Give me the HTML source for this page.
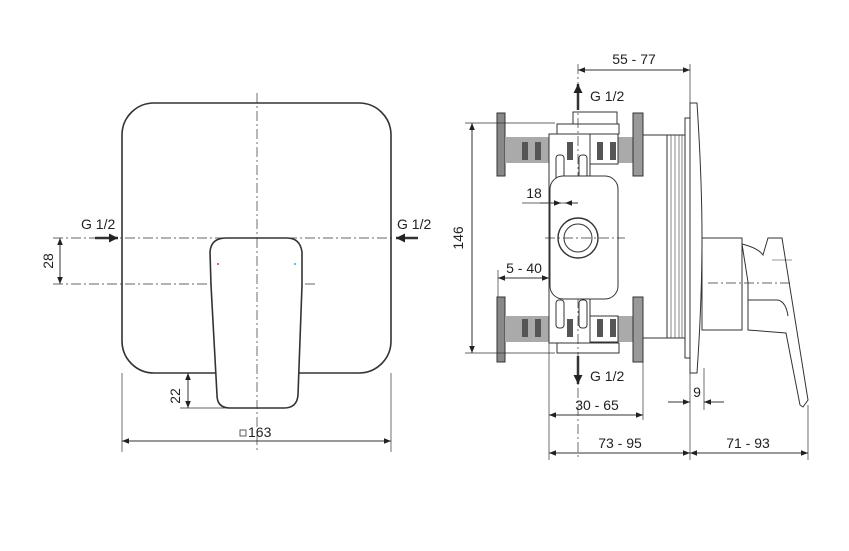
<!DOCTYPE html>
<html><head><style>
html,body{margin:0;padding:0;background:#fff;}
svg{display:block}
text{font-family:"Liberation Sans",sans-serif;font-size:14px;fill:#222}
</style></head><body>
<svg width="849" height="551" viewBox="0 0 849 551" xmlns="http://www.w3.org/2000/svg">
<defs>
<marker id="a" viewBox="0 0 10 10" refX="10" refY="5" markerWidth="9" markerHeight="7" orient="auto-start-reverse" markerUnits="userSpaceOnUse"><path d="M0,1 L10,5 L0,9z" fill="#222"/></marker>
<marker id="b" viewBox="0 0 10 10" refX="10" refY="5" markerWidth="10" markerHeight="9" orient="auto" markerUnits="userSpaceOnUse"><path d="M0,0 L10,5 L0,10z" fill="#222"/></marker>
</defs>
<g fill="none" stroke="#333" stroke-width="1">
<!-- LEFT VIEW -->
<rect x="122" y="103" width="269" height="270" rx="32" stroke-width="1.6"/>
<line x1="257" y1="93" x2="257" y2="450" stroke-dasharray="10,3,2,3" stroke-width="0.7"/>
<line x1="53" y1="238" x2="395" y2="238" stroke-dasharray="10,3,2,3" stroke-width="0.7"/>
<line x1="53" y1="284" x2="316" y2="284" stroke-dasharray="10,3,2,3" stroke-width="0.7"/>
<path d="M226,238 L287,238 Q300,238 302,252 L302,285 L298,395 Q297,408 284,408 L230,408 Q217,408 217,395 L211,285 L210,252 Q211,238 226,238Z" fill="#fff" stroke-width="1.6"/>
<line x1="257" y1="238" x2="257" y2="408" stroke-dasharray="10,3,2,3" stroke-width="0.7"/>
<circle cx="218" cy="264" r="1" fill="#d33" stroke="none"/>
<circle cx="295" cy="264" r="1" fill="#3ad" stroke="none"/>
<line x1="95" y1="238" x2="118" y2="238" stroke-width="2.5" marker-end="url(#b)"/>
<line x1="418" y1="238" x2="396" y2="238" stroke-width="2.5" marker-end="url(#b)"/>
<line x1="60" y1="238" x2="60" y2="284" marker-start="url(#a)" marker-end="url(#a)"/>
<line x1="188" y1="373" x2="188" y2="408" marker-start="url(#a)" marker-end="url(#a)"/>
<line x1="180" y1="408" x2="225" y2="408" stroke-width="0.7"/>
<line x1="122" y1="373" x2="122" y2="452" stroke-width="0.7"/>
<line x1="391" y1="373" x2="391" y2="452" stroke-width="0.7"/>
<line x1="122" y1="441" x2="391" y2="441" marker-start="url(#a)" marker-end="url(#a)"/>
<rect x="240" y="430" width="6" height="6" stroke-width="0.8"/>

<!-- RIGHT VIEW -->
<line x1="578" y1="64" x2="578" y2="460" stroke-dasharray="10,3,2,3" stroke-width="0.7"/>
<line x1="690" y1="64" x2="690" y2="460" stroke-width="0.7"/>
<line x1="578" y1="70" x2="690" y2="70" marker-start="url(#a)" marker-end="url(#a)"/>
<rect x="497" y="113" width="8" height="63" fill="#888"/>
<rect x="497" y="297" width="8" height="65" fill="#888"/>
<rect x="505" y="137" width="44" height="26" fill="#aaa" stroke="none"/>
<rect x="505" y="316" width="44" height="26" fill="#aaa" stroke="none"/>
<rect x="618" y="137" width="15" height="26" fill="#aaa" stroke="none"/>
<rect x="618" y="316" width="15" height="26" fill="#aaa" stroke="none"/>
<g fill="#555" stroke="none">
<rect x="522" y="142" width="6" height="18"/><rect x="535" y="142" width="6" height="18"/>
<rect x="522" y="319" width="6" height="18"/><rect x="535" y="319" width="6" height="18"/>
<rect x="597" y="142" width="6" height="18"/><rect x="610" y="142" width="6" height="18"/>
<rect x="597" y="319" width="6" height="18"/><rect x="610" y="319" width="6" height="18"/>
<rect x="567" y="142" width="6" height="18"/><rect x="567" y="319" width="6" height="18"/>
</g>
<rect x="633" y="113" width="10" height="63" fill="#999"/>
<rect x="633" y="297" width="10" height="65" fill="#999"/>
<line x1="643" y1="135" x2="667" y2="135"/><line x1="643" y1="338" x2="667" y2="338"/>
<rect x="573" y="112" width="44" height="12"/>
<rect x="557" y="124" width="62" height="10"/>
<rect x="549" y="134" width="41" height="209"/>
<rect x="590" y="134" width="28" height="30"/>
<rect x="590" y="316" width="28" height="26"/>
<rect x="557" y="343" width="62" height="10"/>
<rect x="556" y="155" width="8" height="28" rx="3"/>
<rect x="579" y="155" width="8" height="28" rx="3"/>
<rect x="556" y="300" width="8" height="28" rx="3"/>
<rect x="579" y="300" width="8" height="28" rx="3"/>
<rect x="550" y="176" width="68" height="123" rx="13" fill="#fff"/>
<circle cx="578" cy="238" r="20" stroke-width="1.4"/>
<circle cx="578" cy="238" r="14"/>
<line x1="545" y1="238" x2="625" y2="238" stroke-dasharray="10,3,2,3" stroke-width="0.7"/>
<rect x="667" y="135" width="18" height="203"/>
<g stroke-width="0.6"><line x1="671" y1="135" x2="671" y2="338"/><line x1="675" y1="135" x2="675" y2="338"/><line x1="679" y1="135" x2="679" y2="338"/><line x1="682" y1="135" x2="682" y2="338"/></g>
<path d="M685,118 L690,118 L690,103 L697,103 Q702,180 702,238 Q702,300 697,373 L690,373 L690,358 L685,358Z" fill="#fff"/>
<line x1="690" y1="118" x2="690" y2="358"/>
<rect x="702" y="238" width="40" height="92" fill="#fff"/>
<path d="M742,244 Q758,248 763,255 L768,238 L782,238 L808,400 L803,407 L800,405 L786,333 L748,330 L748,282 Z" fill="#fff"/>
<path d="M748,300 L778,300 Q786,302 788,316" />
<line x1="772" y1="260" x2="792" y2="260" stroke-width="0.6"/>
<line x1="708" y1="283" x2="790" y2="283" stroke-dasharray="10,3,2,3" stroke-width="0.7"/>
<line x1="578" y1="110" x2="578" y2="84" stroke-width="2.5" marker-end="url(#b)"/>
<line x1="578" y1="356" x2="578" y2="384" stroke-width="2.5" marker-end="url(#b)"/>
<line x1="465" y1="123" x2="555" y2="123" stroke-width="0.7"/>
<line x1="465" y1="353" x2="555" y2="353" stroke-width="0.7"/>
<line x1="472" y1="123" x2="472" y2="353" marker-start="url(#a)" marker-end="url(#a)"/>
<line x1="522" y1="203" x2="578" y2="203" stroke-width="0.8"/>
<line x1="540" y1="203" x2="561" y2="203" marker-end="url(#a)"/>
<line x1="578" y1="203" x2="565" y2="203" marker-end="url(#a)"/>
<line x1="498" y1="278" x2="549" y2="278" marker-start="url(#a)" marker-end="url(#a)"/>
<line x1="498" y1="270" x2="498" y2="297" stroke-width="0.7"/>
<line x1="549" y1="343" x2="549" y2="460" stroke-width="0.7"/>
<line x1="643" y1="362" x2="643" y2="420" stroke-width="0.7"/>
<line x1="704" y1="368" x2="704" y2="410" stroke-width="0.7"/>
<line x1="808" y1="405" x2="808" y2="460" stroke-width="0.7"/>
<line x1="549" y1="415" x2="643" y2="415" marker-start="url(#a)" marker-end="url(#a)"/>
<line x1="668" y1="402" x2="690" y2="402" marker-end="url(#a)"/>
<line x1="724" y1="402" x2="704" y2="402" marker-end="url(#a)"/>
<line x1="549" y1="453" x2="690" y2="453" marker-start="url(#a)" marker-end="url(#a)"/>
<line x1="690" y1="453" x2="808" y2="453" marker-start="url(#a)" marker-end="url(#a)"/>
</g>
<text x="81" y="229">G 1/2</text>
<text x="397" y="229">G 1/2</text>
<text transform="translate(53,261) rotate(-90)" text-anchor="middle">28</text>
<text transform="translate(180,396) rotate(-90)" text-anchor="middle">22</text>
<text x="248" y="437">163</text>
<text x="634" y="64" text-anchor="middle">55 - 77</text>
<text x="590" y="101">G 1/2</text>
<text x="590" y="381">G 1/2</text>
<text transform="translate(463,238) rotate(-90)" text-anchor="middle">146</text>
<text x="534" y="198" text-anchor="middle">18</text>
<text x="524" y="273" text-anchor="middle">5 - 40</text>
<text x="597" y="410" text-anchor="middle">30 - 65</text>
<text x="697" y="397" text-anchor="middle">9</text>
<text x="620" y="448" text-anchor="middle">73 - 95</text>
<text x="748" y="448" text-anchor="middle">71 - 93</text>
</svg>
</body></html>
